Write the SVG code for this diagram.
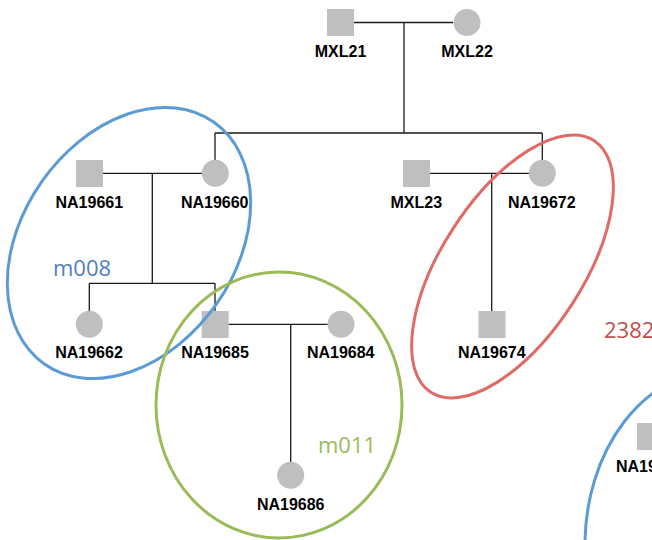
<svg xmlns="http://www.w3.org/2000/svg" width="652" height="540" viewBox="0 0 652 540">
<style>
.sq{fill:#bfbfbf}
.ci{fill:#bfbfbf}
.lbl{font-family:"Liberation Sans",Arial,sans-serif;font-weight:bold;font-size:16px;fill:#000;text-anchor:middle}
.grp{font-family:"Open Sans","Liberation Sans",sans-serif;font-size:22px}
.ln{stroke:#1a1a1a;stroke-width:1.3;fill:none}
.ell{fill:none;stroke-width:3}
</style>
<rect width="652" height="540" fill="#fff"/>
<g id="connectors">
<path class="ln" d="M354 22.5H453M404 22.5V133M215 133H542.3M215 133V160M542.3 133V160"/>
<path class="ln" d="M102.7 173.3H202M152.3 173.3V283.3M89.3 283.3H215M89.3 283.3V311M215 283.3V311"/>
<path class="ln" d="M430 173.3H529M491.7 173.3V311"/>
<path class="ln" d="M228.3 324.3H328M290.7 324.3V462"/>
</g>
<g id="MXL21"><rect class="sq" x="327" y="9" width="27" height="27"/><text class="lbl" x="340.5" y="57">MXL21</text></g>
<g id="MXL22"><circle class="ci" cx="467" cy="22.5" r="13.5"/><text class="lbl" x="467" y="57">MXL22</text></g>
<g id="NA19661"><rect class="sq" x="76" y="160" width="27" height="27"/><text class="lbl" x="89.3" y="208">NA19661</text></g>
<g id="NA19660"><circle class="ci" cx="215.3" cy="173.3" r="13.5"/><text class="lbl" x="214.7" y="208">NA19660</text></g>
<g id="MXL23"><rect class="sq" x="403" y="160" width="27" height="27"/><text class="lbl" x="416.3" y="208">MXL23</text></g>
<g id="NA19672"><circle class="ci" cx="542.3" cy="173.3" r="13.5"/><text class="lbl" x="541.8" y="208">NA19672</text></g>
<g id="NA19662"><circle class="ci" cx="89.3" cy="324.3" r="13.5"/><text class="lbl" x="89" y="358.3">NA19662</text></g>
<g id="NA19685"><rect class="sq" x="201.7" y="311" width="27" height="27"/><text class="lbl" x="215" y="358.3">NA19685</text></g>
<g id="NA19684"><circle class="ci" cx="341" cy="324.3" r="13.5"/><text class="lbl" x="340.7" y="358.3">NA19684</text></g>
<g id="NA19674"><rect class="sq" x="478.5" y="311" width="27" height="27"/><text class="lbl" x="491.8" y="358.3">NA19674</text></g>
<g id="NA19686"><circle class="ci" cx="290.7" cy="475.3" r="13.5"/><text class="lbl" x="290.7" y="510">NA19686</text></g>
<g id="NA19_partial"><rect class="sq" x="637" y="423" width="27" height="27"/><text class="lbl" x="616" y="471.7" style="text-anchor:start">NA19</text></g>
<g id="m008"><ellipse class="ell" stroke="#5b9bd5" cx="129" cy="243" rx="147.6" ry="106.7" transform="rotate(-55 129 243)"/><text class="grp" fill="#4f81bd" x="53" y="276">m008</text></g>
<g id="m011"><ellipse class="ell" stroke="#9bbb59" cx="279" cy="405" rx="123" ry="133"/><text class="grp" fill="#9bbb59" x="318" y="453">m011</text></g>
<g id="g2382"><ellipse class="ell" stroke="#e06b66" cx="512.5" cy="266.5" rx="150" ry="70.5" transform="rotate(-57 512.5 266.5)"/><text class="grp" fill="#c0504d" x="604" y="337.5">2382</text></g>
<g id="partial_group"><ellipse class="ell" stroke="#5b9bd5" cx="720" cy="545" rx="135" ry="175"/></g>
</svg>
